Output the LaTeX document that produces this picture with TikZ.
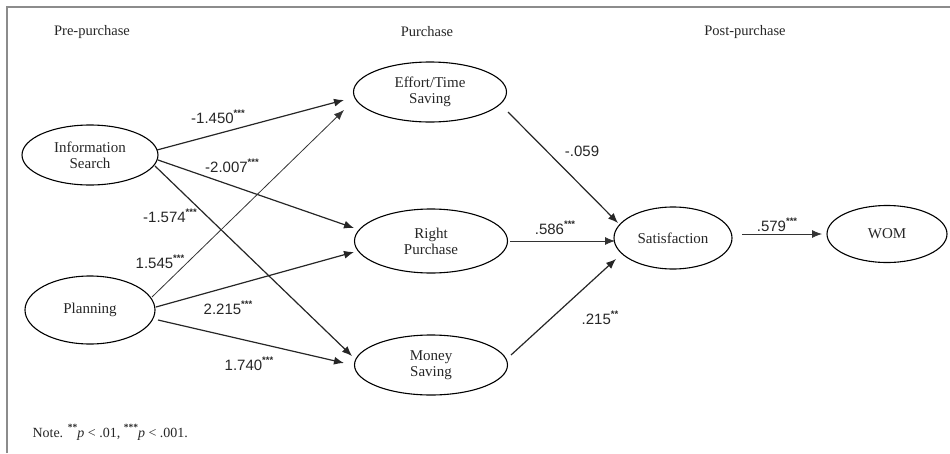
\documentclass[tikz,border=0pt]{standalone}
\usepackage{fontspec}
\setmainfont{Liberation Serif}
\newfontfamily\labelfont{Liberation Sans}
\usetikzlibrary{shapes.geometric,arrows.meta}
% significance stars set as a small raised mark
\newcommand{\sigstars}[1]{\raisebox{0.5em}{\fontsize{9.5}{9}\selectfont\bfseries #1}}
\begin{document}
\begin{tikzpicture}[x=1pt,y=-1pt,
  construct/.style={ellipse,draw,line width=1.1pt,inner sep=0pt,
    minimum width=153pt,minimum height=60pt,align=center,
    font=\fontsize{15}{16}\selectfont,text=black!85},
  stage/.style={font=\fontsize{14.5}{16}\selectfont,text=black!85},
  path/.style={-{Latex[length=10pt,width=8pt]},line width=1.2pt,black!85},
  thinpath/.style={-{Latex[length=10pt,width=8pt]},line width=0.8pt,black!80},
  coef/.style={font=\labelfont\fontsize{15}{16}\selectfont,text=black!85,inner sep=1pt}]
% canvas and frame
\useasboundingbox (0,0) rectangle (950,453);
\draw[line width=2pt,black!45] (7,453) -- (7,7) -- (950,7);

% stage headings
\node[stage] (hpre)  at (92,32)  {Pre-purchase};
\node[stage] (hpur)  at (427,32) {Purchase};
\node[stage] (hpost) at (745,32) {Post-purchase};

% constructs
\node[construct,minimum width=136pt,minimum height=60pt] (info) at (90,155) {Information\\Search};
\node[construct,minimum width=130pt,minimum height=68pt] (plan) at (90,310) {Planning};
\node[construct] (effort) at (430,92)  {Effort/Time\\Saving};
\node[construct,minimum height=64pt] (right)  at (431,241) {Right\\Purchase};
\node[construct] (money)  at (431,365) {Money\\Saving};
\node[construct,minimum width=118pt,minimum height=62pt] (sat) at (673,238) {Satisfaction};
\node[construct,minimum width=120pt,minimum height=57pt] (wom) at (887,234) {WOM};

% anchor points on the construct outlines
\coordinate (infoA) at (157,150);
\coordinate (infoB) at (158,160);
\coordinate (infoC) at (155,166);
\coordinate (planA) at (152,297);
\coordinate (planB) at (156,307);
\coordinate (planC) at (158,320);
\coordinate (effortIn1) at (344,100);
\coordinate (effortIn2) at (344,110);
\coordinate (rightIn)  at (354,228);
\coordinate (rightIn2) at (354,252);
\coordinate (moneyIn)  at (352,356);
\coordinate (moneyIn2) at (344,363);
\coordinate (effortOut) at (508,112);
\coordinate (rightOut)  at (510,241);
\coordinate (moneyOut)  at (511,355);
\coordinate (satIn1) at (618,223);
\coordinate (satIn2) at (615,241);
\coordinate (satIn3) at (616,259);
\coordinate (satOut) at (742,234);
\coordinate (womIn)  at (822,234);

% pre-purchase -> purchase paths
\draw[path] (infoA) -- (effortIn1);
\draw[path] (infoB) -- (rightIn);
\draw[path] (infoC) -- (moneyIn);
\draw[thinpath] (planA) -- (effortIn2);
\draw[path] (planB) -- (rightIn2);
\draw[path] (planC) -- (moneyIn2);

% purchase -> post-purchase paths
\draw[path] (effortOut) -- (satIn1);
\draw[thinpath] (rightOut) -- (satIn2);
\draw[path] (moneyOut) -- (satIn3);
\draw[thinpath] (satOut) -- (womIn);

% path coefficients
\node[coef] (c1) at (218,117) {-1.450\sigstars{***}};
\node[coef] (c2) at (232,166) {-2.007\sigstars{***}};
\node[coef] (c3) at (170,216) {-1.574\sigstars{***}};
\node[coef] (c4) at (160,262) {1.545\sigstars{***}};
\node[coef] (c5) at (228,308) {2.215\sigstars{***}};
\node[coef] (c6) at (249,364) {1.740\sigstars{***}};
\node[coef] (c7) at (582,151) {-.059};
\node[coef] (c8) at (555,228) {.586\sigstars{***}};
\node[coef] (c9) at (600,318) {.215\sigstars{**}};
\node[coef] (c10) at (777,225) {.579\sigstars{***}};

% significance note
\node[anchor=west,font=\fontsize{14}{15}\selectfont,text=black!85] (note) at (29,432)
  {Note. \sigstars{**}\textit{p} < .01, \sigstars{***}\textit{p} < .001.};
\end{tikzpicture}
\end{document}
